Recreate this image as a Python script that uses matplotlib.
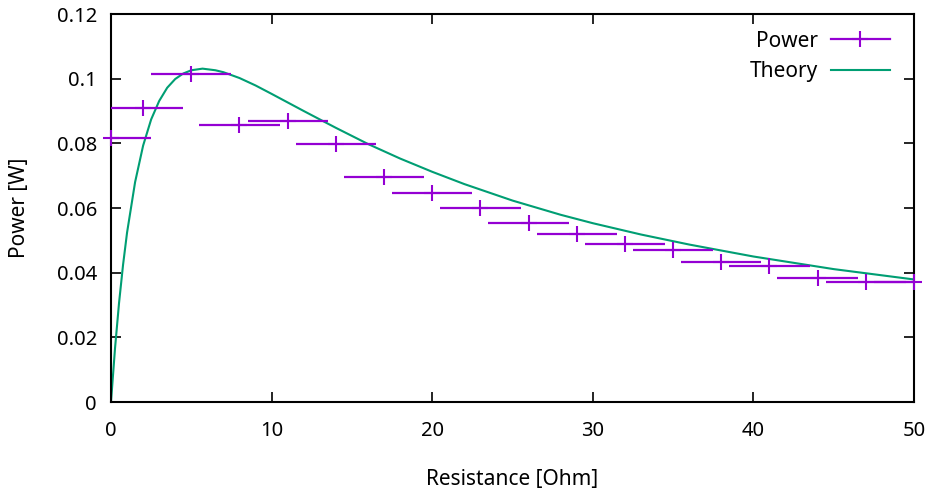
import matplotlib
matplotlib.use("Agg")
import matplotlib.pyplot as plt
from matplotlib.lines import Line2D

plt.rcParams['font.family'] = ['Noto Sans', 'DejaVu Sans']
plt.rcParams['font.size'] = 15

# measured power, with x uncertainty
res = [0, 2, 5, 8, 11, 14, 17, 20, 23, 26, 29, 32, 35, 38, 41, 44, 47, 50]
power = [0.0816, 0.0910, 0.1015, 0.0856, 0.0870, 0.0799, 0.0696, 0.0647, 0.0600,
         0.0555, 0.0521, 0.0489, 0.0469, 0.0432, 0.0422, 0.0384, 0.0370, 0.0370]
res_err = [2.5] * len(res)

# theory curve
theory_r = [0, 0.25, 0.5, 0.75, 1, 1.5, 2, 2.5, 3, 3.5, 4, 4.5, 5, 5.7, 6.5, 7, 8, 9,
            10, 12, 14, 16, 18, 20, 22, 25, 28, 30, 33, 36, 40, 45, 50]
theory_p = [0, 0.0166, 0.0306, 0.0424, 0.0524, 0.0680, 0.0793, 0.0874, 0.0931, 0.0972,
            0.0999, 0.1016, 0.1026, 0.1031, 0.1026, 0.1020, 0.1002, 0.0979, 0.0953,
            0.0900, 0.0848, 0.0798, 0.0753, 0.0712, 0.0674, 0.0623, 0.0579, 0.0553,
            0.0518, 0.0487, 0.0450, 0.0411, 0.0379]

purple = '#9400D3'
green = '#009E73'

fig = plt.figure(figsize=(9.31, 4.90), dpi=100)
ax = fig.add_axes([111/931, 88/490, 803/931, 388/490])

eb = ax.errorbar(res, power, xerr=res_err, fmt='none', ecolor=purple,
                 elinewidth=1.6, capsize=0, zorder=3)
# markers are not clipped at the border (like gnuplot)
ax.plot(res, power, '+', color=purple, ms=11.5, mew=1.5, clip_on=False, zorder=4)

ax.plot(theory_r, theory_p, color=green, lw=1.5, zorder=2)

ax.set_xlim(0, 50)
ax.set_ylim(0, 0.12)
ax.set_xticks([0, 10, 20, 30, 40, 50])
ax.set_yticks([0, 0.02, 0.04, 0.06, 0.08, 0.1, 0.12])
ax.set_yticklabels(['0', '0.02', '0.04', '0.06', '0.08', '0.1', '0.12'])
ax.tick_params(direction='in', length=7, width=1.2, top=True, right=True, pad=10,
               labelsize=14.5)
ax.tick_params(axis='x', pad=14)
for s in ax.spines.values():
    s.set_linewidth(1.5)

ax.set_xlabel('Resistance [Ohm]', labelpad=20)
ax.set_ylabel('Power [W]', labelpad=19)

handles = [Line2D([], [], color=purple, marker='+', ms=11.5, mew=1.5, lw=1.6),
           Line2D([], [], color=green, lw=1.5)]
ax.legend(handles, ['Power', 'Theory'], loc='upper right', frameon=False,
          markerfirst=False, handlelength=2.85, handletextpad=0.6,
          labelspacing=0.45, borderaxespad=0, borderpad=0,
          bbox_to_anchor=(0.970, 0.957))

fig.savefig('out.png', dpi=100)
